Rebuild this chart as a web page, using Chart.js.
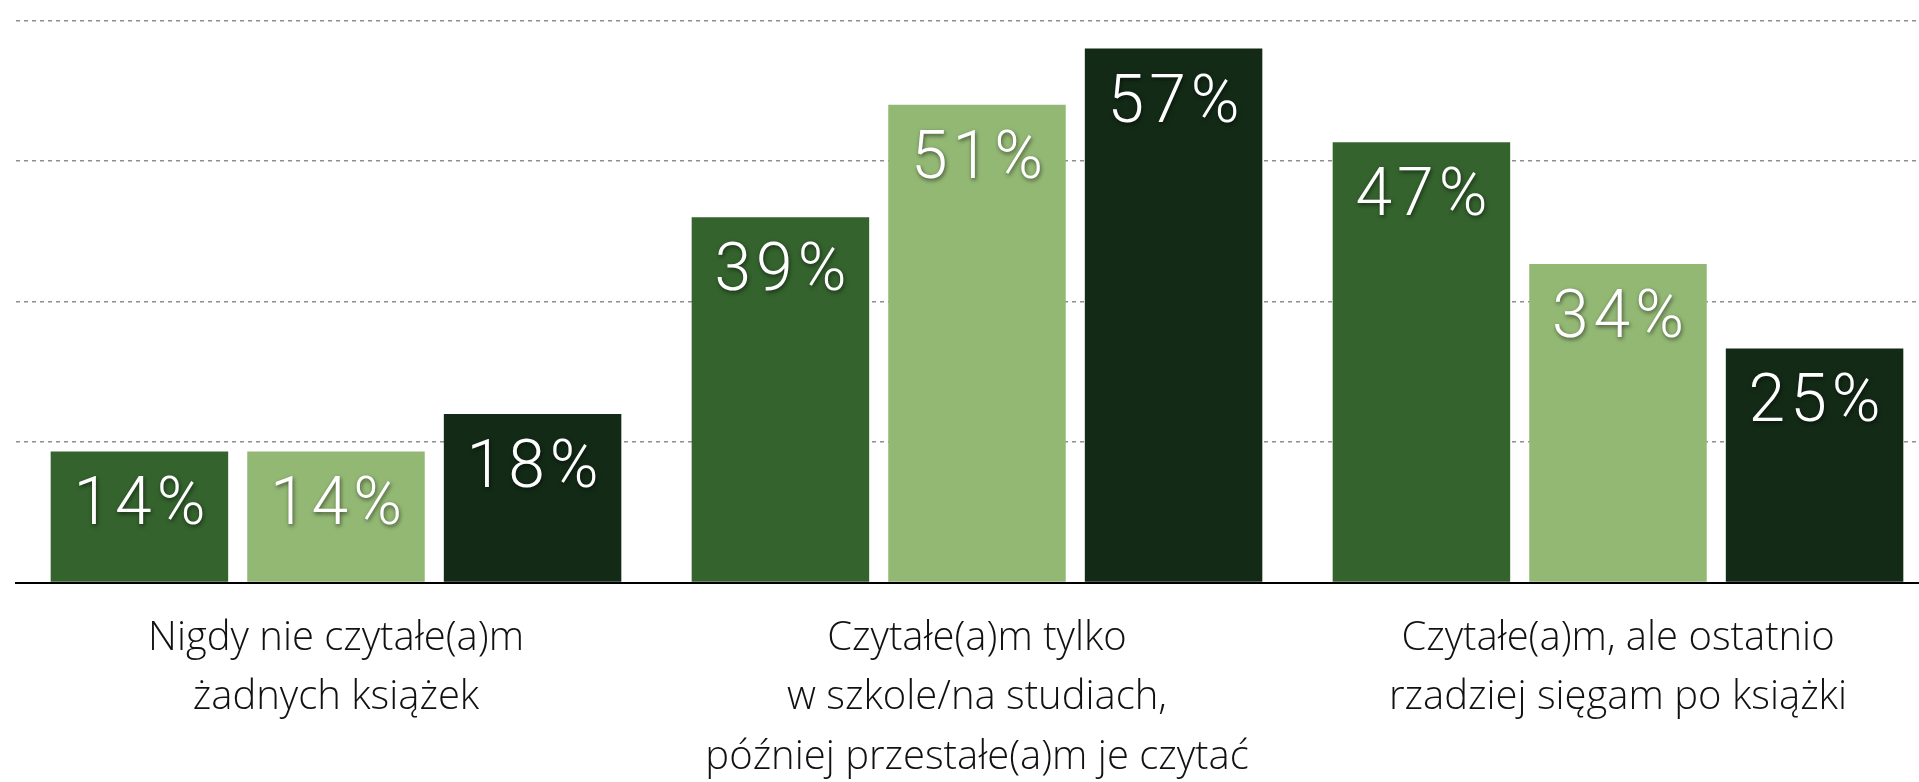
<!DOCTYPE html>
<html>
<head>
<meta charset="utf-8">
<script src="https://cdn.jsdelivr.net/npm/chart.js@4/dist/chart.umd.min.js"></script>
<style>
  html, body { margin: 0; padding: 0; background: #fff; overflow: hidden; }
  #wrap { position: relative; width: 1940px; height: 782px; }
</style>
</head>
<body>
<div id="wrap"><canvas id="reading-chart"></canvas></div>
<script>
const categories = [
  ["Nigdy nie czytałe(a)m", "żadnych książek"],
  ["Czytałe(a)m tylko", "w szkole/na studiach,", "później przestałe(a)m je czytać"],
  ["Czytałe(a)m, ale ostatnio", "rzadziej sięgam po książki"]
];
const seriesA = [14, 39, 47];
const seriesB = [14, 51, 34];
const seriesC = [18, 57, 25];
const yTicks = [0, 15, 30, 45, 60];

const colors = ["#34632d", "#93b874", "#132b16"];

// white percent labels inside the top of each bar
const valueLabels = {
  id: "valueLabels",
  afterDatasetsDraw(chart) {
    const ctx = chart.ctx;
    ctx.save();
    ctx.font = "300 66px Roboto";
    ctx.letterSpacing = "5px";
    ctx.fillStyle = "#ffffff";
    ctx.textAlign = "center";
    ctx.textBaseline = "alphabetic";
    ctx.shadowColor = "rgba(0,0,0,0.55)";
    ctx.shadowBlur = 4;
    ctx.shadowOffsetX = 1;
    ctx.shadowOffsetY = 2;
    chart.data.datasets.forEach((ds, i) => {
      chart.getDatasetMeta(i).data.forEach((bar, j) => {
        ctx.fillText(ds.data[j] + "%", bar.x + 2.5, bar.y + 73);
      });
    });
    ctx.restore();
  }
};

const config = {
  type: "bar",
  data: {
    labels: categories,
    datasets: [
      { label: "A", data: seriesA, backgroundColor: colors[0] },
      { label: "B", data: seriesB, backgroundColor: colors[1] },
      { label: "C", data: seriesC, backgroundColor: colors[2] }
    ]
  },
  options: {
    responsive: true,
    maintainAspectRatio: false,
    animation: false,
    categoryPercentage: 0.92,
    barPercentage: 0.903,
    layout: { padding: { left: 15.5, right: 1.5, top: 20.5, bottom: 0 } },
    plugins: { legend: { display: false }, tooltip: { enabled: false } },
    scales: {
      x: {
        grid: { display: false, drawTicks: false },
        border: { display: true, color: "#000", width: 2 },
        ticks: {
          color: "#111",
          padding: 26,
          font: { family: "'Open Sans'", weight: 300, size: 40, lineHeight: "59.5px" }
        },
        afterFit(scale) { scale.height = 199.4; }
      },
      y: {
        min: 0,
        max: 60,
        afterBuildTicks(scale) { scale.ticks = yTicks.map(v => ({ value: v })); },
        ticks: { display: false },
        border: { display: false, dash: [4, 4] },
        grid: {
          drawTicks: false,
          color: ctx => ctx.tick.value === 0 ? "rgba(0,0,0,0)" : "#8f8f8f",
          lineWidth: 1.5
        },
        afterFit(scale) { scale.width = 0; }
      }
    }
  },
  plugins: [valueLabels]
};

new Chart(document.getElementById("reading-chart").getContext("2d"), config);
</script>
</body>
</html>
